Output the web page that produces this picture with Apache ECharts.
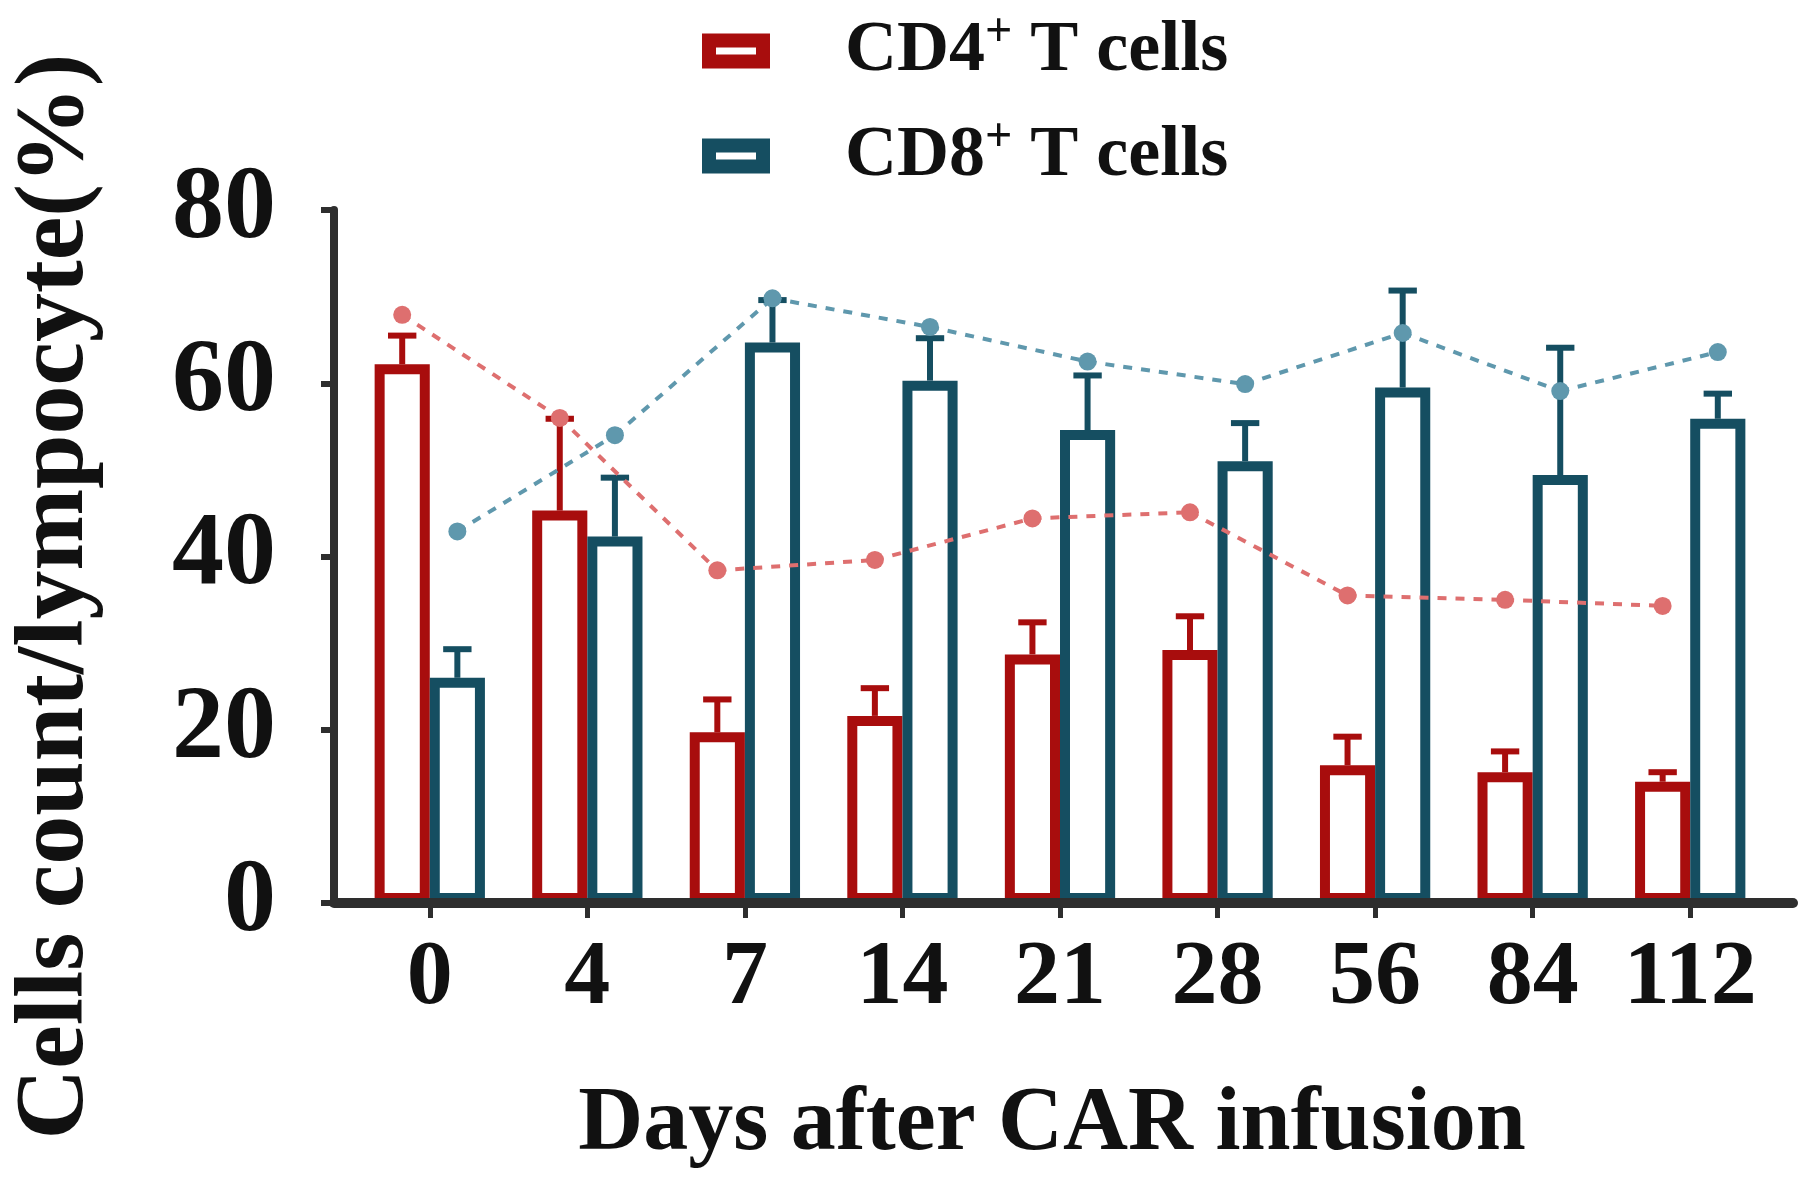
<!DOCTYPE html>
<html>
<head>
<meta charset="utf-8">
<script src="https://cdn.jsdelivr.net/npm/echarts@6/dist/echarts.min.js"></script>
<style>
  html, body { margin: 0; padding: 0; background: #ffffff; }
  #chart { width: 1800px; height: 1180px; }
</style>
</head>
<body>
<div id="chart"></div>
<script>
// ---- Data ----
const days = ['0', '4', '7', '14', '21', '28', '56', '84', '112'];
const yTicks = [0, 20, 40, 60, 80];

const cd4Mean = [62.2, 45.3, 19.7, 21.6, 28.7, 29.2, 15.9, 15.1, 14.0];
const cd4Sd   = [3.3, 10.6, 3.8, 3.2, 3.7, 3.9, 3.3, 2.4, 1.1];
const cd8Mean = [26.0, 42.3, 64.7, 60.3, 54.6, 51.0, 59.5, 49.4, 55.9];
const cd8Sd   = [3.3, 6.8, 4.9, 4.9, 6.3, 4.4, 11.2, 14.7, 2.9];

const cd4Trend = [67.9, 56.0, 38.4, 39.6, 44.4, 45.1, 35.5, 35.0, 34.3];
const cd8Trend = [42.9, 54.0, 69.8, 66.5, 62.5, 59.9, 65.8, 59.1, 63.6];

const seriesNames = ['CD4+ T cells', 'CD8+ T cells'];

// ---- Styling ----
const RED = '#a80d0d';
const BLUE = '#154e61';
const RED_LIGHT = '#de6f6f';
const BLUE_LIGHT = '#5f98ad';
const AXIS = '#2e2e2e';
const FONT = '"Liberation Serif", "Times New Roman", serif';
const BAR_RATIO = 0.35;

const chart = echarts.init(document.getElementById('chart'), null, { renderer: 'canvas' });

function errorRender(color, side) {
  return function (params, api) {
    const i = api.value(0), mean = api.value(1), sd = api.value(2);
    const band = api.size([1, 0])[0];
    const bw = band * BAR_RATIO;
    const base = api.coord([i, mean]);
    const top = api.coord([i, mean + sd]);
    const x = base[0] + side * bw / 2;
    const capW = band * 0.18;
    return {
      type: 'group',
      children: [
        { type: 'line', shape: { x1: x, y1: base[1], x2: x, y2: top[1] },
          style: { stroke: color, lineWidth: 6 } },
        { type: 'line', shape: { x1: x - capW / 2, y1: top[1], x2: x + capW / 2, y2: top[1] },
          style: { stroke: color, lineWidth: 6 } }
      ]
    };
  };
}

function trendRender(color, side) {
  return function (params, api) {
    const i = api.value(0), v = api.value(1), nv = api.value(2);
    const band = api.size([1, 0])[0];
    const bw = band * BAR_RATIO;
    const p = api.coord([i, v]);
    const x = p[0] + side * bw / 2;
    const children = [];
    if (!isNaN(nv) && nv !== null) {
      const q = api.coord([i + 1, nv]);
      children.push({
        type: 'line',
        shape: { x1: x, y1: p[1], x2: q[0] + side * bw / 2, y2: q[1] },
        style: { stroke: color, lineWidth: 4, lineDash: [9, 9] }
      });
    }
    children.push({ type: 'circle', shape: { cx: x, cy: p[1], r: 9 }, style: { fill: color } });
    return { type: 'group', children: children };
  };
}

const option = {
  backgroundColor: '#ffffff',
  animation: false,
  legend: {
    data: seriesNames,
    orient: 'vertical',
    left: 702,
    top: 10,
    padding: 0,
    itemGap: 28,
    itemWidth: 54,
    itemHeight: 21,
    icon: 'rect',
    itemStyle: { borderWidth: 14 },
    formatter: function (name) { return name.replace('+', '{sup|+}'); },
    textStyle: {
      fontFamily: FONT, fontWeight: 'bold', fontSize: 72, color: '#111',
      padding: [0, 0, 0, 77],
      rich: {
        sup: { fontFamily: FONT, fontWeight: 'bold', fontSize: 48, color: '#111',
               padding: [0, 0, 34, 0] }
      }
    }
  },
  grid: [
    { left: 351, right: 31, top: 210, bottom: 277 },
    { left: 323, right: 7, top: 210, bottom: 277 }
  ],
  xAxis: [
    {
      type: 'category', gridIndex: 0, data: days,
      axisLine: { show: false },
      axisTick: { show: true, interval: 0, alignWithLabel: true, length: 15, lineStyle: { color: AXIS, width: 5 } },
      axisLabel: { interval: 0, margin: 30, fontFamily: FONT, fontWeight: 'bold', fontSize: 92, color: '#111' },
      name: 'Days after CAR infusion',
      nameLocation: 'middle',
      nameGap: 178,
      nameTextStyle: { fontFamily: FONT, fontWeight: 'bold', fontSize: 90, color: '#111',
                       padding: [0, 16, 0, 0] }
    },
    {
      type: 'value', gridIndex: 1, min: 0, max: 1, z: 10,
      axisLine: { show: true, lineStyle: { color: AXIS, width: 10 } },
      axisTick: { show: false }, axisLabel: { show: false }, splitLine: { show: false }
    }
  ],
  yAxis: [
    {
      type: 'value', gridIndex: 0, min: 0, max: 80, interval: 20, show: false
    },
    {
      type: 'value', gridIndex: 1, min: 0, max: 80, interval: 20, z: 10,
      axisLine: { show: true, lineStyle: { color: AXIS, width: 8 } },
      axisTick: { show: true, length: 13, lineStyle: { color: AXIS, width: 6 } },
      splitLine: { show: false },
      axisLabel: {
        margin: 58, fontFamily: FONT, fontWeight: 'bold', fontSize: 104, color: '#111',
        formatter: function (v) { return yTicks.indexOf(v) >= 0 ? String(v) : ''; }
      },
      name: 'Cells count/lympocyte(%)',
      nameLocation: 'middle',
      nameRotate: 90,
      nameGap: 228,
      nameTextStyle: { fontFamily: FONT, fontWeight: 'bold', fontSize: 98, color: '#111',
                       padding: [0, 80, 0, 0] }
    }
  ],
  series: [
    {
      name: seriesNames[0], type: 'bar', xAxisIndex: 0, yAxisIndex: 0,
      data: cd4Mean, barWidth: (BAR_RATIO * 100) + '%', barGap: '0%',
      itemStyle: { color: '#ffffff', borderColor: RED, borderWidth: 10 }
    },
    {
      name: seriesNames[1], type: 'bar', xAxisIndex: 0, yAxisIndex: 0,
      data: cd8Mean, barWidth: (BAR_RATIO * 100) + '%', barGap: '0%',
      itemStyle: { color: '#ffffff', borderColor: BLUE, borderWidth: 10 }
    },
    {
      name: 'CD4 error', type: 'custom', xAxisIndex: 0, yAxisIndex: 0, z: 3,
      renderItem: errorRender(RED, -1),
      encode: { x: 0, y: 1 },
      data: cd4Mean.map((m, i) => [i, m, cd4Sd[i]])
    },
    {
      name: 'CD8 error', type: 'custom', xAxisIndex: 0, yAxisIndex: 0, z: 3,
      renderItem: errorRender(BLUE, 1),
      encode: { x: 0, y: 1 },
      data: cd8Mean.map((m, i) => [i, m, cd8Sd[i]])
    },
    {
      name: 'CD4 trend', type: 'custom', xAxisIndex: 0, yAxisIndex: 0, z: 4,
      renderItem: trendRender(RED_LIGHT, -1),
      encode: { x: 0, y: 1 },
      data: cd4Trend.map((v, i) => [i, v, i + 1 < cd4Trend.length ? cd4Trend[i + 1] : NaN])
    },
    {
      name: 'CD8 trend', type: 'custom', xAxisIndex: 0, yAxisIndex: 0, z: 4,
      renderItem: trendRender(BLUE_LIGHT, 1),
      encode: { x: 0, y: 1 },
      data: cd8Trend.map((v, i) => [i, v, i + 1 < cd8Trend.length ? cd8Trend[i + 1] : NaN])
    }
  ]
};

chart.setOption(option);
</script>
</body>
</html>
